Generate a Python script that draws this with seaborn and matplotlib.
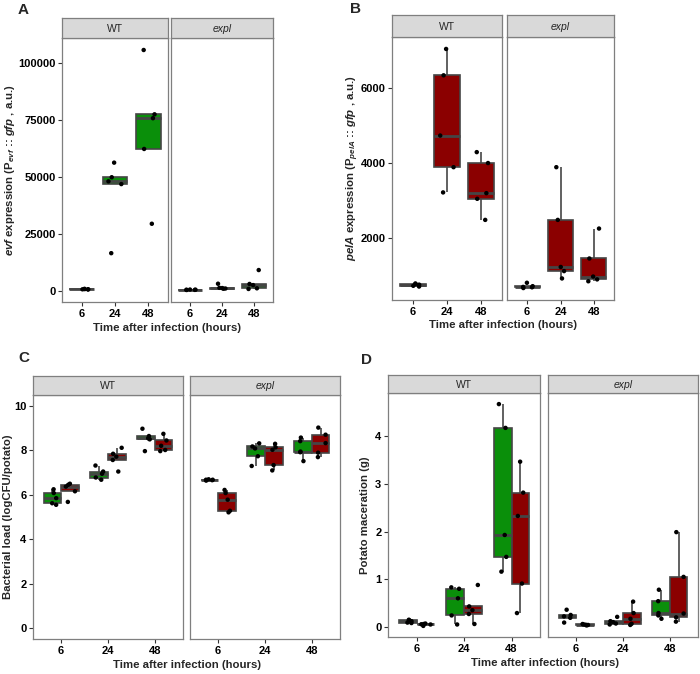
import numpy as np
import pandas as pd
import seaborn as sns
import matplotlib.pyplot as plt

times = ['6', '24', '48']
strains = ['WT', 'expl']
reporters = ['evf', 'pelA']

# A: Pevf::gfp expression (a.u.), one list per time point
evf_wt = [[650, 750, 800, 850, 950],
          [16600, 46900, 48100, 49900, 56300],
          [29500, 62300, 75800, 77500, 105700]]
evf_expl = [[450, 500, 560, 600, 650],
            [1000, 1100, 1300, 1400, 3200],
            [900, 1200, 2600, 3100, 9200]]

# B: PpelA::gfp expression (a.u.)
pela_wt = [[720, 740, 770, 790, 800],
           [3220, 3890, 4730, 6330, 7030],
           [2490, 3050, 3200, 4000, 4290]]
pela_expl = [[680, 700, 710, 730, 820],
             [935, 1130, 1240, 2490, 3890],
             [860, 910, 985, 1465, 2260]]

# C: bacterial load (logCFU/potato)
load_wt_evf = [[5.55, 5.62, 5.85, 6.08, 6.25],
               [6.68, 6.78, 6.95, 7.05, 7.32],
               [7.97, 8.50, 8.55, 8.65, 8.98]]
load_wt_pela = [[5.68, 6.16, 6.37, 6.45, 6.50],
                [7.05, 7.57, 7.72, 7.85, 8.12],
                [7.97, 8.02, 8.21, 8.45, 8.75]]
load_expl_evf = [[6.64, 6.66, 6.68, 6.68, 6.70],
                 [7.30, 7.74, 8.09, 8.18, 8.32],
                 [7.52, 7.92, 7.95, 8.42, 8.58]]
load_expl_pela = [[5.21, 5.28, 5.78, 6.08, 6.22],
                  [7.10, 7.34, 8.03, 8.14, 8.30],
                  [7.70, 7.90, 8.33, 8.71, 9.03]]

# D: potato maceration (g)
mac_wt_evf = [[0.08, 0.09, 0.12, 0.14, 0.15],
              [0.05, 0.24, 0.60, 0.80, 0.83],
              [1.16, 1.47, 1.93, 4.18, 4.68]]
mac_wt_pela = [[0.02, 0.05, 0.055, 0.06, 0.07],
               [0.06, 0.27, 0.35, 0.43, 0.88],
               [0.29, 0.91, 2.33, 2.82, 3.47]]
mac_expl_evf = [[0.09, 0.19, 0.22, 0.25, 0.36],
                [0.05, 0.07, 0.10, 0.12, 0.21],
                [0.17, 0.24, 0.29, 0.54, 0.78]]
mac_expl_pela = [[0.03, 0.04, 0.045, 0.05, 0.06],
                 [0.04, 0.065, 0.17, 0.29, 0.53],
                 [0.11, 0.20, 0.28, 1.05, 1.99]]

sns.set_theme(style='white')
plt.rcParams['font.family'] = ['Liberation Sans', 'DejaVu Sans']
plt.rcParams['mathtext.fontset'] = 'custom'
plt.rcParams['mathtext.rm'] = 'Liberation Sans:bold'
plt.rcParams['mathtext.it'] = 'Liberation Sans:bold:italic'

pal = {'evf': '#0A8F0A', 'pelA': '#8B0000'}
edge = '#454545'
frame = '#7F7F7F'
W, H = 700, 674


def long(series):
    # series: {(strain, reporter): list of per-time lists}
    rows = []
    for (strain, rep), vals in series.items():
        for t, v in zip(times, vals):
            for y in v:
                rows.append((strain, rep, t, y))
    return pd.DataFrame(rows, columns=['strain', 'reporter', 'time', 'value'])


def rect(l, t, r, b):
    return [l / W, 1 - b / H, (r - l) / W, (b - t) / H]


def panel(fig, df, boxes, strip_top, ylim, yticks):
    hue_order = [r for r in reporters if r in df['reporter'].unique()]
    lo, hi = ylim if ylim else (df['value'].min(), df['value'].max())
    pad = 0.05 * (hi - lo)
    for i, (strain, (l, t, r, b)) in enumerate(zip(strains, boxes)):
        ax = fig.add_axes(rect(l, t, r, b))
        sub = df[df['strain'] == strain]
        sns.boxplot(data=sub, x='time', y='value', hue='reporter', order=times,
                    hue_order=hue_order, palette=pal, width=0.75, gap=0,
                    saturation=1, showfliers=False, linecolor=edge, linewidth=1.2,
                    capprops={'visible': False}, medianprops={'linewidth': 2.0},
                    legend=False, ax=ax)
        np.random.seed(4 + i)
        sns.stripplot(data=sub, x='time', y='value', hue='reporter', order=times,
                      hue_order=hue_order, palette={k: 'black' for k in hue_order},
                      dodge=len(hue_order) > 1, jitter=0.2, size=3.2,
                      legend=False, ax=ax)
        ax.set_xlim(-0.6, 2.6)
        ax.set_ylim(lo - pad, hi + pad)
        ax.set_yticks(yticks)
        ax.set_xlabel('')
        ax.set_ylabel('')
        for s in ax.spines.values():
            s.set_color(frame)
            s.set_linewidth(0.9)
        ax.tick_params(axis='both', length=2.75, width=0.8, color='#333333',
                       pad=2, labelsize=8, labelcolor='black')
        ax.tick_params(axis='x', bottom=True)
        ax.tick_params(axis='y', left=(i == 0), labelleft=(i == 0))
        for lab in ax.get_xticklabels() + ax.get_yticklabels():
            lab.set_fontweight('bold')
        ax.set_facecolor('white')
        # facet strip
        st = fig.add_axes(rect(l, strip_top, r, t))
        st.set_facecolor('#D9D9D9')
        st.set_xticks([])
        st.set_yticks([])
        for s in st.spines.values():
            s.set_color(frame)
            s.set_linewidth(0.9)
        st.text(0.5, 0.45, strain, ha='center', va='center', fontsize=7.5,
                style='italic' if strain == 'expl' else 'normal',
                transform=st.transAxes)


fig = plt.figure(figsize=(7, 6.74), dpi=100)

dfA = long({('WT', 'evf'): evf_wt, ('expl', 'evf'): evf_expl})
dfB = long({('WT', 'pelA'): pela_wt, ('expl', 'pelA'): pela_expl})
dfC = long({('WT', 'evf'): load_wt_evf, ('WT', 'pelA'): load_wt_pela,
            ('expl', 'evf'): load_expl_evf, ('expl', 'pelA'): load_expl_pela})
dfD = long({('WT', 'evf'): mac_wt_evf, ('WT', 'pelA'): mac_wt_pela,
            ('expl', 'evf'): mac_expl_evf, ('expl', 'pelA'): mac_expl_pela})

panel(fig, dfA, [(62, 38, 168, 302), (171, 38, 273, 302)], 18, None,
      [0, 25000, 50000, 75000, 100000])
panel(fig, dfB, [(392, 37, 502, 300), (507, 37, 614, 300)], 15, None,
      [2000, 4000, 6000])
panel(fig, dfC, [(33, 395, 183, 639), (190, 395, 340, 639)], 376, (0, 10),
      [0, 2, 4, 6, 8, 10])
panel(fig, dfD, [(388, 393, 540, 637), (548, 393, 698, 637)], 375, None,
      [0, 1, 2, 3, 4])

xt = 'Time after infection (hours)'
for x, y in [(167, 328), (503, 325), (187, 665), (545, 663)]:
    fig.text(x / W, 1 - y / H, xt, ha='center', va='center', fontsize=8.2,
             fontweight='bold')

ylabels = [
    (10, 170, r'$\it{evf}$ expression (P$_{\it{evf}}$ :: $\it{gfp}$ , a.u.)'),
    (353, 168, r'$\it{pelA}$ expression (P$_{\it{pelA}}$ :: $\it{gfp}$ , a.u.)'),
    (8, 517, 'Bacterial load (logCFU/potato)'),
    (365, 515, 'Potato maceration (g)'),
]
for x, y, s in ylabels:
    fig.text(x / W, 1 - y / H, s, ha='center', va='center', rotation=90,
             fontsize=8.2, fontweight='bold')

for x, y, s in [(18, 3, 'A'), (350, 2, 'B'), (18, 351, 'C'), (361, 353, 'D')]:
    fig.text(x / W, 1 - y / H, s, ha='left', va='top', fontsize=11,
             fontweight='bold')

fig.savefig('out.png', dpi=100)
